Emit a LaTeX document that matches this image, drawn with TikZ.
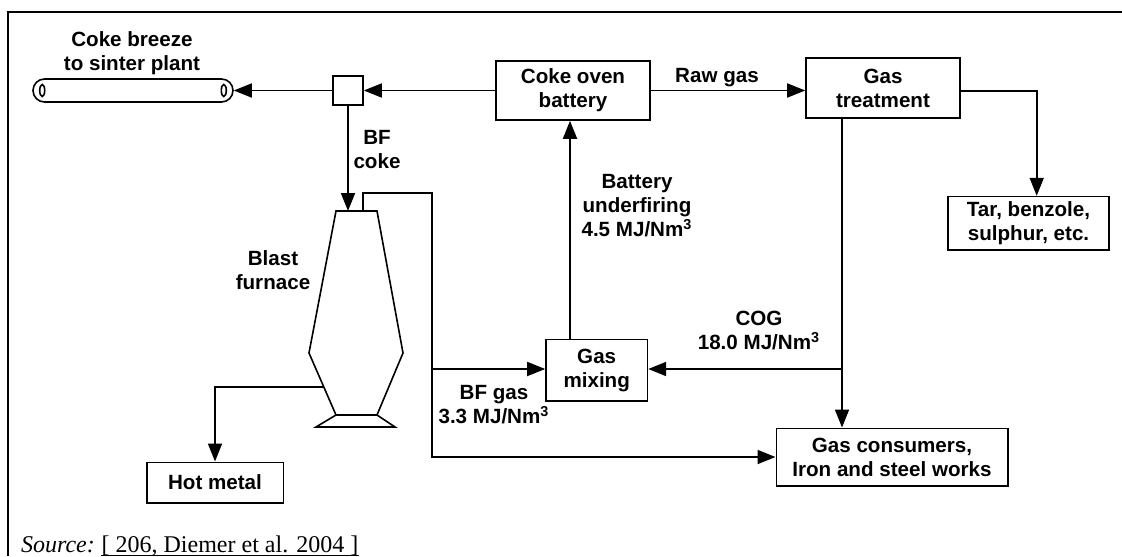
\documentclass[tikz,border=0pt]{standalone}
\usepackage{fontspec}
\setmainfont{Liberation Sans}
\newfontfamily\srcfont{Liberation Serif}
\usetikzlibrary{arrows.meta}
\newcommand\lblfont{\fontsize{10.3}{12}\selectfont\bfseries}

\begin{document}
\begin{tikzpicture}[x=0.5pt,y=-0.5pt,
		box/.style={draw,line width=0.8pt,inner sep=0pt,align=center,font=\lblfont},
		lbl/.style={inner sep=0pt,align=center,font=\lblfont},
		src/.style={inner sep=0pt,anchor=base west,font=\srcfont\fontsize{12}{14}\selectfont},
		line/.style={line width=0.9pt},
		flow/.style={line width=0.9pt,-{Triangle[length=9pt,width=7pt]}}]
			\useasboundingbox (0,0) rectangle (1122,556);
			\draw[line width=1.1pt] (8,556) -- (8,12) -- (1122,12);
			% boxes
			\node[box,minimum width=100pt,minimum height=11.5pt,rounded corners=5.75pt] (conv) at (133,90.5) {};
			\draw[line width=0.8pt] ([xshift=5pt]conv.west) ellipse [x radius=2.5,y radius=6];
			\draw[line width=0.8pt] ([xshift=-5pt]conv.east) ellipse [x radius=2.5,y radius=6];
			\node[box,minimum width=15pt,minimum height=14.5pt] (sq) at (348,90.5) {};
			\node[box,minimum width=77pt,minimum height=29.5pt] (coke) at (573,90.5) {Coke oven\\battery};
			\node[box,minimum width=77pt,minimum height=29.7pt] (treat) at (883,88) {Gas\\treatment};
			\node[box,minimum width=80.5pt,minimum height=26.7pt] (tar) at (1028.5,223.3) {Tar, benzole,\\sulphur, etc.};
			\node[box,minimum width=50.7pt,minimum height=30.7pt] (mix) at (596.7,370) {Gas\\mixing};
			\node[box,minimum width=115.7pt,minimum height=28.7pt] (cons) at (892,457) {Gas consumers,\\Iron and steel works};
			\node[box,minimum width=68.3pt,minimum height=20.2pt] (hot) at (215,482.5) {Hot metal};
			% blast furnace
			\draw[line width=0.8pt] (336,211) -- (377,211) -- (403,353) -- (377,415) -- (336,415) -- (309,353) -- cycle;
			\draw[line width=0.8pt] (336,415) -- (316,427) -- (395,427) -- (377,415);
			\coordinate (bfin) at (348,211);
			\coordinate (bfout) at (363,211);
			\coordinate (tap) at (323,387);
			\coordinate (split) at (432,369);
			\coordinate (cog) at (842,369);
			% texts
			\node[lbl] (breeze) at (132,53) {Coke breeze\\to sinter plant};
			\node[lbl] (bfcoke) at (377,150) {BF\\coke};
			\node[lbl,anchor=base] (raw) at (717,82.7) {Raw gas};
			\node[lbl] (blast) at (273,270) {Blast\\furnace};
			\node[lbl] (under) at (637,206) {Battery\\underfiring\\4.5 MJ/Nm\textsuperscript{3}};
			\node[lbl] (coglbl) at (759,331) {COG\\18.0 MJ/Nm\textsuperscript{3}};
			\node[lbl] (bfgas) at (494,405) {BF gas\\3.3 MJ/Nm\textsuperscript{3}};
			\node[src] (source) at (20.7,552.5) {\itshape Source:};
			\node[src] (ref) at ([xshift=3pt]source.base east) {[ 206, Diemer et al. 2004 ]};
			\draw[line width=0.6pt] ([yshift=-1.3pt]ref.base west) -- ([yshift=-1.3pt]ref.base east);
			% connectors
			\draw[flow] (coke.west) -- (sq.east);
			\draw[flow] (sq.west) -- (conv.east);
			\draw[flow] (coke.east) -- (treat.west |- coke.east);
			\draw[flow] (treat.east |- 0,90.7) -| ([xshift=4.1pt]tar.north);
			\draw[line] (treat.south -| cog) -- (cog);
			\draw[flow] (cog) -- (mix.east |- cog);
			\draw[flow] (cog) -- (cons.north -| cog);
			\draw[flow] (mix.north -| 570,0) -- (coke.south -| 570,0);
			\draw[flow] (sq.south) -- (bfin);
			\draw[flow] (bfout) |- (432,193) |- (cons.west);
			\draw[flow] (split) -- (mix.west |- split);
			\draw[flow] (tap) -| (hot.north);
		\end{tikzpicture}
\end{document}
